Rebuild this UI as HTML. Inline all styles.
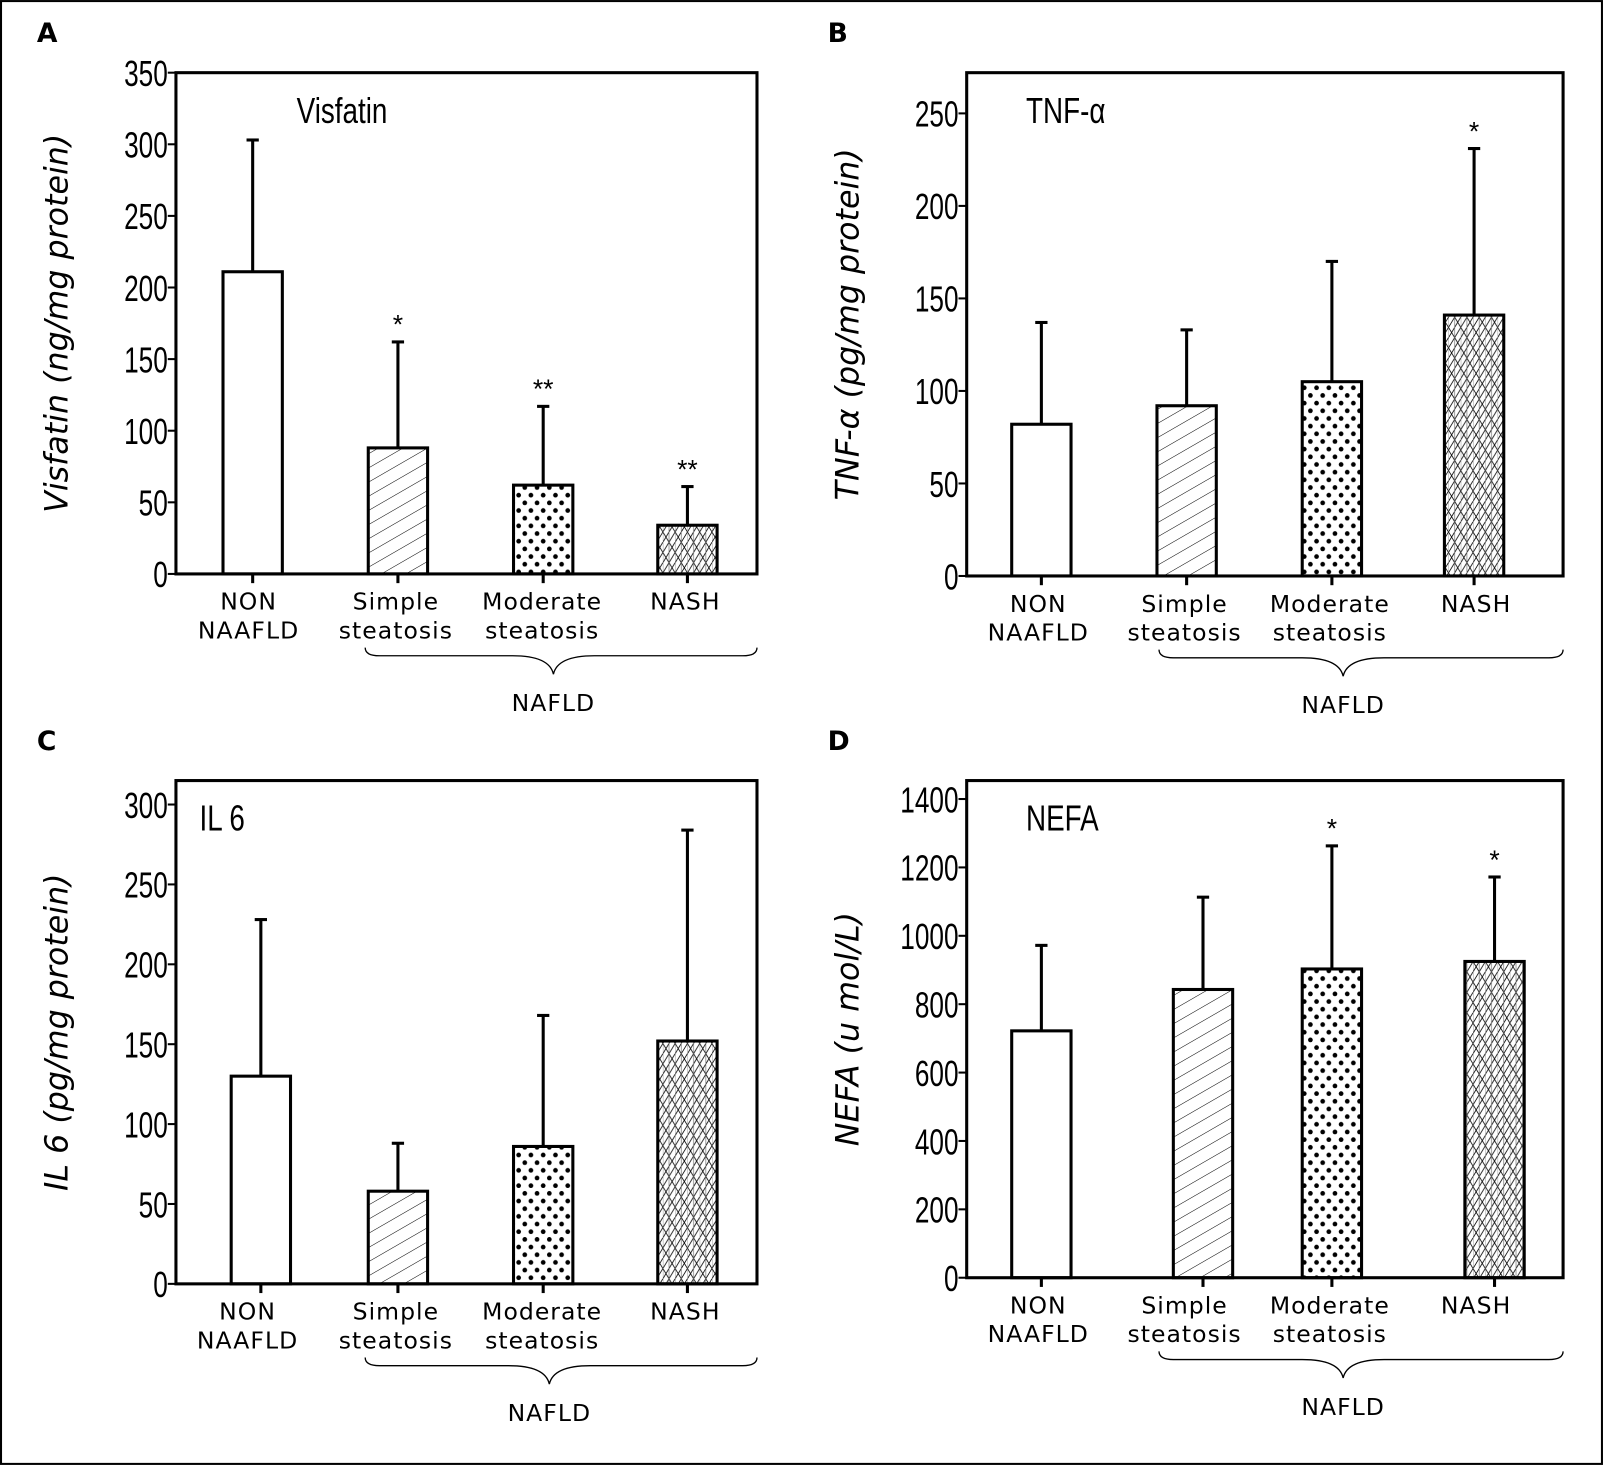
<!DOCTYPE html>
<html><head><meta charset="utf-8">
<style>
html,body{margin:0;padding:0;background:#fff;}
svg{display:block;}
.tick{font-family:"Liberation Sans",sans-serif;font-size:32px;fill:#000;}
.cat{font-family:"DejaVu Sans","Liberation Sans",sans-serif;font-size:23px;letter-spacing:1px;fill:#000;}
.ttl{font-family:"Liberation Sans",sans-serif;font-size:32px;fill:#000;}
.ylab{font-family:"DejaVu Sans","Liberation Sans",sans-serif;font-size:31px;font-style:italic;fill:#000;}
.pl{font-family:"DejaVu Sans","Liberation Sans",sans-serif;font-size:26px;font-weight:bold;fill:#000;}
.star{font-family:"Liberation Sans",sans-serif;font-size:26px;fill:#000;}
</style></head>
<body>
<svg id="fig" width="1604" height="1466" viewBox="0 0 1568 1433" xmlns="http://www.w3.org/2000/svg">
<defs>
<pattern id="p-diag" patternUnits="userSpaceOnUse" width="12" height="12" patternTransform="rotate(-30)">
<line x1="0" y1="0" x2="12" y2="0" stroke="#000" stroke-width="1"/></pattern>
<pattern id="p-dots" patternUnits="userSpaceOnUse" width="12" height="15">
<circle cx="3" cy="4" r="2.3" fill="#000"/><circle cx="9" cy="11.5" r="2.3" fill="#000"/></pattern>
<pattern id="p-cross" patternUnits="userSpaceOnUse" width="12" height="20">
<line x1="0" y1="0" x2="12" y2="20" stroke="#000" stroke-width="0.8"/>
<line x1="12" y1="0" x2="0" y2="20" stroke="#000" stroke-width="0.8"/>
<line x1="0" y1="10" x2="6" y2="0" stroke="#000" stroke-width="0.8"/>
<line x1="6" y1="20" x2="12" y2="10" stroke="#000" stroke-width="0.8"/>
<line x1="6" y1="0" x2="6" y2="20" stroke="#777" stroke-width="0.7"/>
<line x1="0" y1="0" x2="0" y2="20" stroke="#777" stroke-width="0.7"/></pattern>
</defs>
<rect x="1" y="1" width="1565" height="1430" fill="none" stroke="#000" stroke-width="2"/>
</svg>
<script>
// Panel A: Visfatin
const aValues = [211, 88, 62, 34];
const aErrors = [303, 162, 117, 61];
const aStars = ["", "*", "**", "**"];
const aTicks = [0, 50, 100, 150, 200, 250, 300, 350];
// Panel B: TNF-alpha
const bValues = [82, 92, 105, 141];
const bErrors = [137, 133, 170, 231];
const bStars = ["", "", "", "*"];
const bTicks = [0, 50, 100, 150, 200, 250];
// Panel C: IL 6
const cValues = [130, 58, 86, 152];
const cErrors = [228, 88, 168, 284];
const cStars = ["", "", "", ""];
const cTicks = [0, 50, 100, 150, 200, 250, 300];
// Panel D: NEFA
const dValues = [722, 843, 903, 925];
const dErrors = [972, 1113, 1263, 1172];
const dStars = ["", "", "*", "*"];
const dTicks = [0, 200, 400, 600, 800, 1000, 1200, 1400];
const categories = [["NON","NAAFLD"],["Simple","steatosis"],["Moderate","steatosis"],["NASH"]];
const fills = ["#fff","url(#p-diag)","url(#p-dots)","url(#p-cross)"];

const svg = document.getElementById('fig');
const NS = 'http://www.w3.org/2000/svg';
function mk(tag, attrs, parent){const e=document.createElementNS(NS,tag);for(const k in attrs)e.setAttribute(k,attrs[k]);(parent||svg).appendChild(e);return e;}

function panel(cfg){
  const g = mk('g',{});
  
  
  const y = v => cfg.bottom - (v - 0) / (cfg.max) * (cfg.bottom - cfg.top);
  const bw = 58;
  const L = mk('text',{x:cfg.left-136,y:cfg.top-30,class:'pl'},g); L.textContent=cfg.letter;
  
  
  cfg.values.forEach((v,i)=>{
    const cx = cfg.centers[i];
    const eb = mk('line',{x1:cx,x2:cx,y1:y(v),y2:y(cfg.errors[i]),stroke:'#000','stroke-width':3},g);
    
    
    mk('line',{x1:cx-6,x2:cx+6,y1:y(cfg.errors[i]),y2:y(cfg.errors[i]),stroke:'#000','stroke-width':3},g);
    const r = mk('rect',{x:cx-bw/2,y:y(v),width:bw,height:cfg.bottom-y(v),fill:fills[i],stroke:'#000','stroke-width':3},g);
    
    
    if(cfg.stars[i]){
      const s = mk('text',{x:cx,y:y(cfg.errors[i])-8,'text-anchor':'middle',class:'star'},g);
      s.textContent = cfg.stars[i];
      
      
    }
    mk('line',{x1:cx,x2:cx,y1:cfg.bottom,y2:cfg.bottom+9,stroke:'#000','stroke-width':3},g);
    categories[i].forEach((t,j)=>{
      const c = mk('text',{x:cfg.labelX[i],y:cfg.bottom+35+j*28,'text-anchor':'middle',class:'cat'},g);
      c.textContent=t;
      
      
    });
  });
  const ax = mk('rect',{x:cfg.left,y:cfg.top,width:cfg.right-cfg.left,height:cfg.bottom-cfg.top,fill:'none',stroke:'#000','stroke-width':3},g);
  
  
  cfg.ticks.forEach(t=>{
    mk('line',{x1:cfg.left-8,x2:cfg.left,y1:y(t),y2:y(t),stroke:'#000','stroke-width':2},g);
    const tl = mk('text',{x:0,y:0,'text-anchor':'end',class:'tick',transform:`translate(${cfg.left-8},${y(t)+13}) scale(0.8,1.1)`},g);
    tl.textContent=t;
    
    
  });
  const ti = mk('text',{x:0,y:0,class:'ttl',transform:`translate(${cfg.left+cfg.titleDx},${cfg.top+49}) scale(0.85,1.1)`},g); ti.textContent=cfg.title;
  
  
  const yc = (cfg.top+cfg.bottom)/2;
  const yl = mk('text',{x:0,y:0,'text-anchor':'middle',class:'ylab',transform:`translate(${cfg.left-106},${yc}) rotate(-90)`},g);
  yl.textContent=cfg.ylab;
  
  
  const bx1=cfg.braceX1, bx2=cfg.right, bm=cfg.braceMid, by=cfg.bottom+80;
  const br = mk('path',{d:`M${bx1},${by-8} Q${bx1},${by} ${bx1+14},${by} L${bm-40},${by} Q${bm-4},${by} ${bm},${by+18} Q${bm+4},${by} ${bm+40},${by} L${bx2-14},${by} Q${bx2},${by} ${bx2},${by-8}`,fill:'none',stroke:'#000','stroke-width':1.3},g);
  
  
  const nf = mk('text',{x:bm,y:cfg.bottom+134,'text-anchor':'middle',class:'cat'},g); nf.textContent='NAFLD';
  
  
}

panel({key:'a',letter:'A',left:172,right:740,top:71,bottom:561,max:350,values:aValues,errors:aErrors,stars:aStars,ticks:aTicks,
  centers:[247,389,531,672],labelX:[243,387,530,670],title:'Visfatin',titleDx:118,ylab:'Visfatin (ng/mg protein)',braceX1:357,braceMid:541});
panel({key:'b',letter:'B',left:945,right:1528,top:71,bottom:563,max:272,values:bValues,errors:bErrors,stars:bStars,ticks:bTicks,
  centers:[1018,1160,1302,1441],labelX:[1015,1158,1300,1443],title:'TNF-α',titleDx:58,ylab:'TNF-α (pg/mg protein)',braceX1:1133,braceMid:1313});
panel({key:'c',letter:'C',left:172,right:740,top:763,bottom:1255,max:315,values:cValues,errors:cErrors,stars:cStars,ticks:cTicks,
  centers:[255,389,531,672],labelX:[242,387,530,670],title:'IL 6',titleDx:23,ylab:'IL 6 (pg/mg protein)',braceX1:357,braceMid:537});
panel({key:'d',letter:'D',left:945,right:1528,top:763,bottom:1249,max:1454,values:dValues,errors:dErrors,stars:dStars,ticks:dTicks,
  centers:[1018,1176,1302,1461],labelX:[1015,1158,1300,1443],title:'NEFA',titleDx:58,ylab:'NEFA (u mol/L)',braceX1:1133,braceMid:1313});
</script>
</body></html>
